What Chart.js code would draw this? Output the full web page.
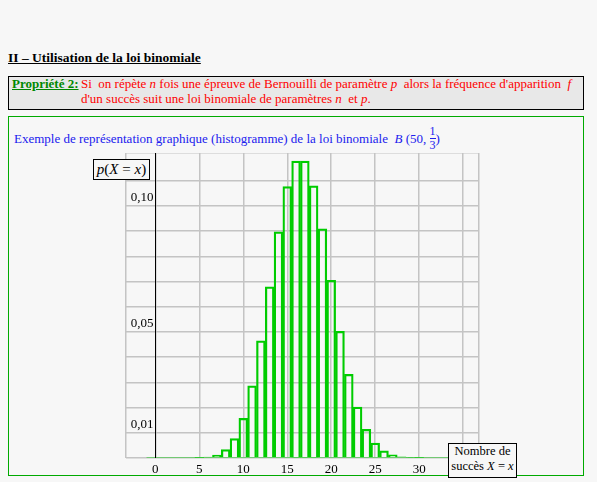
<!DOCTYPE html>
<html><head><meta charset="utf-8">
<script src="https://cdn.jsdelivr.net/npm/chart.js@4"></script>
<style>
body{margin:0;background:#f7f7f7;font-family:"Liberation Serif",serif;font-size:13px;width:597px;height:482px;overflow:hidden;position:relative}
.a{position:absolute;white-space:nowrap}
i{font-style:italic}
</style></head><body>
<div class="a" style="left:8px;top:50px;font-weight:bold;text-decoration:underline;font-size:13.5px">II – Utilisation de la loi binomiale</div>
<div class="a" style="left:8px;top:76px;width:574px;height:32px;background:#e8e8e8;border:1px solid #000"></div>
<div class="a" style="left:12px;top:76px;color:#008800;font-weight:bold;text-decoration:underline">Propriété 2:</div>
<div class="a" style="left:81px;top:76px;color:#ff0000;line-height:15px">Si &nbsp;on répète <i>n</i> fois une épreuve de Bernouilli de paramètre <i>p</i> &nbsp;alors la fréquence d'apparition &nbsp;<i>f</i><br>d'un succès suit une loi binomiale de paramètres <i>n</i> &nbsp;et <i>p</i>.</div>
<div class="a" style="left:8px;top:116px;width:574px;height:358px;border:1px solid #00aa00"></div>
<div class="a" style="left:14px;top:127px;color:#2020ee">Exemple de représentation graphique (histogramme) de la loi binomiale &nbsp;<i>B</i> (50, <span style="display:inline-block;vertical-align:middle;text-align:center;font-size:12px;line-height:12px;position:relative;top:-2px">1<span style="display:block;border-top:1px solid #2020ee;margin-top:1px"></span>3</span>)</div>
<div class="a" style="left:122px;top:153px;width:361px;height:330px"><canvas id="c"></canvas></div>
<div class="a" style="left:93px;top:159px;width:55px;height:19px;border:1px solid #000;background:#f7f7f7;font-size:15px;text-align:center;line-height:19px"><i>p</i>(<i>X</i> = <i>x</i>)</div>
<div class="a" style="left:448px;top:443px;width:67px;height:33px;border:1px solid #000;background:#f7f7f7;font-size:12.5px;line-height:15px;text-align:center">Nombre de<br>succès <i>X</i> = <i>x</i></div>
<script>
const ks=[5,6,7,8,9,10,11,12,13,14,15,16,17,18,19,20,21,22,23,24,25,26,27,28,29,30];
const probs=[0.0001,0.0004,0.0012,0.0033,0.0077,0.0157,0.0286,0.0465,0.0679,0.0897,0.1077,0.1178,0.1178,0.1080,0.0909,0.0705,0.0503,0.0332,0.0202,0.0114,0.0059,0.0028,0.0013,0.0005,0.0002,0.0001];
const yLabels=[[0.01,"0,01"],[0.05,"0,05"],[0.10,"0,10"]];
const xLabels=[0,5,10,15,20,25,30];
const xGrid=[0,5,10,15,20,25,30,35];
const baseline=[{x:-1,y:0},{x:34,y:0}];
const plug={id:'p',afterDatasetsDraw(ch){const c=ch.ctx,x=ch.scales.x,y=ch.scales.y;
 c.save();c.strokeStyle='#000';c.lineWidth=1;c.beginPath();const px=Math.round(x.getPixelForValue(0))+0.5;c.moveTo(px,ch.chartArea.top);c.lineTo(px,ch.chartArea.bottom);c.stroke();
 c.fillStyle='#000';c.font='13px "Liberation Serif"';c.textAlign='right';c.textBaseline='middle';
 yLabels.forEach(([v,t])=>c.fillText(t,px-2,y.getPixelForValue(v)-8));c.restore();}};
new Chart(document.getElementById('c'),{type:'bar',
data:{datasets:[
{data:ks.map((k,i)=>({x:k,y:probs[i]})),backgroundColor:'rgba(0,0,0,0)',borderColor:'#00cc00',borderWidth:1.6,borderSkipped:'start',barPercentage:1,categoryPercentage:1,grouped:false},
{type:'line',data:baseline,borderColor:'#22cc22',borderWidth:1,pointRadius:0}]},
options:{responsive:true,maintainAspectRatio:false,animation:false,layout:{padding:0},
plugins:{legend:{display:false},tooltip:{enabled:false}},
scales:{x:{type:'linear',offset:false,min:-10/3,max:36.8,afterFit(s){s.height=25},border:{display:false},
 afterBuildTicks(s){s.ticks=[{value:-10/3},...xGrid.map(v=>({value:v})),{value:36.8}]},
 grid:{color:'#c4c4c4',lineWidth:1.5,drawTicks:false,offset:false},
 ticks:{autoSkip:false,maxRotation:0,color:'#000',font:{family:'Liberation Serif',size:13},padding:4,callback:v=>xLabels.includes(v)?String(v):''}},
y:{min:0,max:0.121,afterFit(s){s.width=0},border:{display:false},grid:{color:'#c4c4c4',lineWidth:1.5,drawTicks:false},ticks:{stepSize:0.01,display:false}}}},
plugins:[plug]});
</script></body></html>
